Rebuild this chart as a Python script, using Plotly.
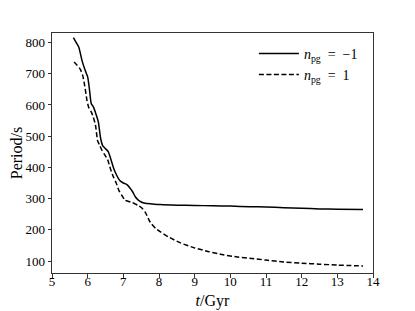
import plotly.graph_objects as go

t_neg = [5.60, 5.68, 5.75, 5.84, 5.93, 6.00, 6.05, 6.10, 6.16, 6.22, 6.30, 6.36, 6.42, 6.50,
         6.58, 6.64, 6.72, 6.80, 6.90, 7.00, 7.10, 7.18, 7.26, 7.34, 7.42, 7.50, 7.61, 7.80,
         8.03, 8.5, 9.0, 9.5, 10.0, 10.55, 11.0, 11.5, 12.0, 12.5, 13.0, 13.72]
p_neg = [816, 800, 786, 743, 711, 690, 650, 605, 594, 575, 545, 495, 470, 460,
         450, 430, 400, 378, 358, 350, 345, 335, 322, 305, 295, 289, 285, 283,
         281, 279, 278, 277, 276, 274, 273, 271, 269, 267, 266, 265]

t_pos = [5.62, 5.70, 5.79, 5.86, 5.92, 5.98, 6.03, 6.10, 6.16, 6.22, 6.28, 6.34, 6.40, 6.48,
         6.56, 6.64, 6.72, 6.80, 6.88, 6.96, 7.05, 7.15, 7.24, 7.33, 7.42, 7.52, 7.62, 7.75,
         7.90, 8.03, 8.3, 8.6, 9.0, 9.4, 9.8, 10.2, 10.6, 11.0, 11.5, 12.0, 12.5, 13.0, 13.72]
p_pos = [738, 728, 715, 695, 660, 615, 592, 578, 560, 535, 485, 470, 455, 440,
         425, 395, 370, 350, 325, 310, 295, 291, 288, 283, 278, 270, 255, 225,
         205, 194, 175, 158, 142, 130, 120, 113, 108, 103, 97, 93, 90, 87, 84]

x_ticks = [5, 6, 7, 8, 9, 10, 11, 12, 13, 14]
y_ticks = [100, 200, 300, 400, 500, 600, 700, 800]

FONT = "Liberation Serif"

fig = go.Figure()
fig.add_trace(go.Scatter(x=t_neg, y=p_neg, mode="lines",
                         line=dict(color="black", width=1.5, shape="spline", smoothing=0.6),
                         name="<i>n</i><sub>pg</sub>&nbsp;&nbsp;=&nbsp;&nbsp;−1"))
fig.add_trace(go.Scatter(x=t_pos, y=p_pos, mode="lines",
                         line=dict(color="black", width=1.5, dash="5px,2.5px", shape="spline", smoothing=0.6),
                         name="<i>n</i><sub>pg</sub>&nbsp;&nbsp;=&nbsp;&nbsp;1"))

axis_common = dict(showline=True, mirror=True, linecolor="#333", linewidth=1,
                   ticks="outside", ticklen=3.5, tickwidth=1, tickcolor="#333",
                   showgrid=False, zeroline=False, automargin=False,
                   tickfont=dict(family=FONT, size=13, color="black"))

fig.update_xaxes(range=[5, 14], tickvals=x_ticks, ticklabelstandoff=-7,
                 title=dict(text="<i>t</i>/Gyr", font=dict(family=FONT, size=16, color="black"), standoff=6),
                 **axis_common)
fig.update_yaxes(range=[61.6, 830.7], tickvals=y_ticks,
                 title=dict(text="Period/s", font=dict(family=FONT, size=16, color="black"), standoff=2),
                 **axis_common)

# page body has an 8px default margin; compensate so the plot lands where the reference has it
fig.update_layout(width=415, height=311, margin=dict(l=44, r=50, t=25, b=46),
                  plot_bgcolor="white", paper_bgcolor="white",
                  font=dict(family=FONT, color="black"),
                  legend=dict(x=0.629, y=0.98, xanchor="left", yanchor="top",
                              bgcolor="rgba(0,0,0,0)", font=dict(family=FONT, size=14),
                              tracegroupgap=0, itemwidth=40))

fig.write_html("out.html")
